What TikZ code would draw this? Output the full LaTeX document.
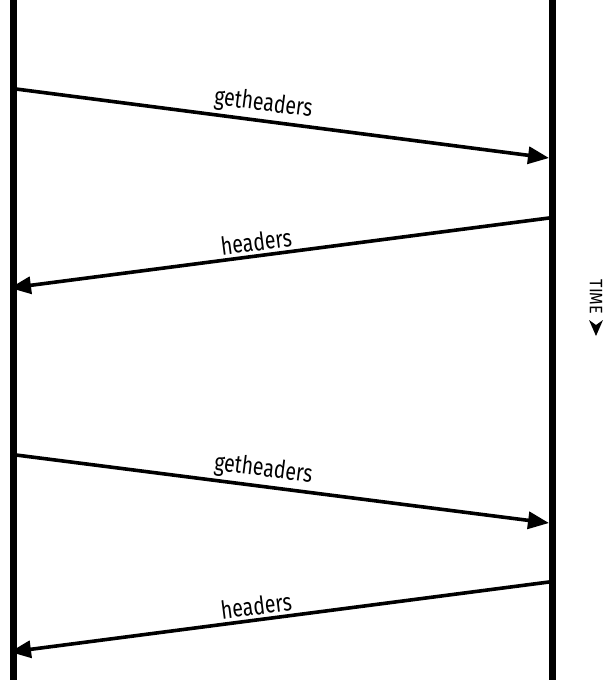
\documentclass[tikz,border=0pt]{standalone}
\usepackage{fontspec}
\setmainfont{Fira Sans}[FakeStretch=0.78]
\newfontfamily\timefont{Fira Sans}[FakeStretch=0.9]
\usetikzlibrary{arrows.meta}

\begin{document}
\begin{tikzpicture}[
    x=1pt, y=-1pt,
    lifeline/.style={line width=7pt},
    message/.style={line width=3.6pt, -{Triangle[length=21pt,width=17pt]}},
    msglabel/.style={sloped, above, font=\fontsize{25}{25}\selectfont, inner sep=3pt}
]
    \useasboundingbox (0,0) rectangle (610,680);

    % lifelines
    \coordinate (client top) at (13,0);
    \coordinate (client bottom) at (13,680);
    \coordinate (server top) at (552,0);
    \coordinate (server bottom) at (552,680);
    \draw[lifeline] (client top) -- (client bottom);
    \draw[lifeline] (server top) -- (server bottom);

    % message end points
    \coordinate (req1 start) at (16,89);
    \coordinate (req1 end) at (549,158);
    \coordinate (resp1 start) at (549,218);
    \coordinate (resp1 end) at (10,288);
    \coordinate (req2 start) at (16,455);
    \coordinate (req2 end) at (549,523);
    \coordinate (resp2 start) at (549,582);
    \coordinate (resp2 end) at (10,652);

    \draw[message] (req1 start) -- node[msglabel, pos=0.46]{getheaders} (req1 end);
    \draw[message] (resp1 start) -- node[msglabel, pos=0.54]{headers} (resp1 end);
    \draw[message] (req2 start) -- node[msglabel, pos=0.46]{getheaders} (req2 end);
    \draw[message] (resp2 start) -- node[msglabel, pos=0.54]{headers} (resp2 end);

    % time direction
    \node[rotate=-90, font=\timefont\fontsize{18}{18}\selectfont, inner sep=0pt] (time) at (596,297) {TIME};
    \fill (589,320) -- (596,336) -- (603,320) -- (596,325) -- cycle;
\end{tikzpicture}
\end{document}
